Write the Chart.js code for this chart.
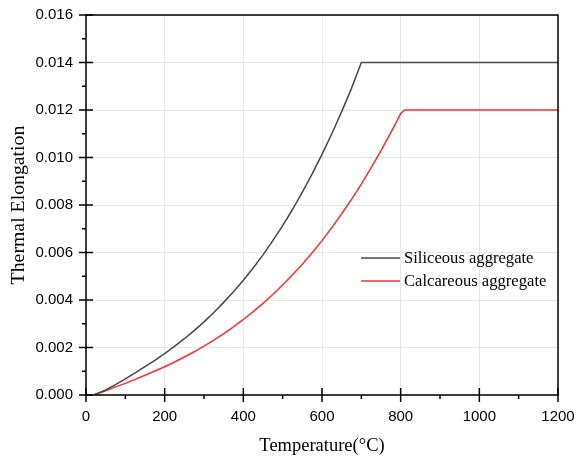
<!DOCTYPE html>
<html>
<head>
<meta charset="utf-8">
<script src="https://cdn.jsdelivr.net/npm/chart.js@4.4.1/dist/chart.umd.min.js"></script>
<style>
  html, body { margin: 0; padding: 0; background: #fff; }
  #wrap { width: 577px; height: 458px; }
</style>
</head>
<body>
<div id="wrap"><canvas id="chart" width="577" height="458"></canvas></div>
<script>
const xTicks = [0, 200, 400, 600, 800, 1000, 1200];
const yTicks = [0, 0.002, 0.004, 0.006, 0.008, 0.010, 0.012, 0.014, 0.016];

const siliceousTemp  = [20, 50, 75, 100, 125, 150, 175, 200, 225, 250, 275, 300, 325, 350, 375, 400,
                        425, 450, 475, 500, 525, 550, 575, 600, 625, 650, 675, 700, 1200];
const siliceousElong = [0, 0.00021, 0.00044, 0.00068, 0.00093, 0.00119, 0.00146, 0.00174, 0.00205,
                        0.00237, 0.00271, 0.00308, 0.00347, 0.00390, 0.00435, 0.00483, 0.00535,
                        0.00590, 0.00650, 0.00713, 0.00781, 0.00854, 0.00931, 0.01013, 0.01100,
                        0.01193, 0.01291, 0.01400, 0.01400];

const calcareousTemp  = [20, 50, 75, 100, 125, 150, 175, 200, 225, 250, 275, 300, 325, 350, 375, 400,
                         425, 450, 475, 500, 525, 550, 575, 600, 625, 650, 675, 700, 725, 750, 775,
                         790, 800, 810, 1200];
const calcareousElong = [0, 0.00018, 0.00034, 0.00049, 0.00066, 0.00083, 0.00101, 0.00119, 0.00139,
                         0.00160, 0.00182, 0.00206, 0.00231, 0.00258, 0.00287, 0.00318, 0.00351,
                         0.00386, 0.00423, 0.00463, 0.00506, 0.00551, 0.00599, 0.00650, 0.00705,
                         0.00763, 0.00824, 0.00888, 0.00957, 0.01029, 0.01105, 0.01152, 0.01185,
                         0.01200, 0.01200];

const SERIF = "'Liberation Serif', 'Times New Roman', serif";
const SANS  = "'Liberation Sans', Arial, sans-serif";

const pts = (xs, ys) => xs.map((x, i) => ({ x, y: ys[i] }));

// ── frame, crossing major ticks, outward minor ticks, inset legend ──
const origin = {
  id: "originFrame",
  afterDraw(chart) {
    const { ctx, chartArea: a } = chart;
    const sx = chart.scales.x, sy = chart.scales.y;
    ctx.save();
    ctx.strokeStyle = "#000";
    ctx.lineWidth = 1.5;
    ctx.strokeRect(a.left, a.top, a.right - a.left, a.bottom - a.top);

    ctx.beginPath();
    for (const v of xTicks) {
      const x = sx.getPixelForValue(v);
      ctx.moveTo(x, a.bottom - 7); ctx.lineTo(x, a.bottom + 7);
    }
    for (let v = 100; v < 1200; v += 200) {
      const x = sx.getPixelForValue(v);
      ctx.moveTo(x, a.bottom); ctx.lineTo(x, a.bottom + 4);
    }
    for (const v of yTicks) {
      const y = sy.getPixelForValue(v);
      ctx.moveTo(a.left - 7, y); ctx.lineTo(a.left + 7, y);
    }
    for (let v = 0.001; v < 0.016; v += 0.002) {
      const y = sy.getPixelForValue(v);
      ctx.moveTo(a.left - 4, y); ctx.lineTo(a.left, y);
    }
    ctx.stroke();

    // legend
    ctx.font = "16.6px " + SERIF;
    ctx.textBaseline = "middle";
    ctx.textAlign = "left";
    chart.data.datasets.forEach((ds, i) => {
      const y = 258 + i * 23;
      ctx.strokeStyle = ds.borderColor;
      ctx.lineWidth = 1.5;
      ctx.beginPath();
      ctx.moveTo(361, y); ctx.lineTo(400, y);
      ctx.stroke();
      ctx.fillStyle = "#000";
      ctx.fillText(ds.label, 404, y + 1);
    });
    ctx.restore();
  }
};

new Chart(document.getElementById("chart"), {
  type: "line",
  data: {
    datasets: [
      { label: "Siliceous aggregate",  data: pts(siliceousTemp, siliceousElong),   borderColor: "#474747" },
      { label: "Calcareous aggregate", data: pts(calcareousTemp, calcareousElong), borderColor: "#ff2e2e" }
    ]
  },
  options: {
    responsive: false,
    animation: false,
    layout: { padding: { top: 15, right: 19, left: 0, bottom: 0 } },
    elements: { point: { radius: 0 }, line: { borderWidth: 1.5, tension: 0 } },
    plugins: { legend: { display: false }, tooltip: { enabled: false } },
    scales: {
      x: {
        type: "linear", min: 0, max: 1200,
        afterBuildTicks: s => { s.ticks = xTicks.map(v => ({ value: v })); },
        afterFit: s => { s.height = 63; s.paddingLeft = 0; s.paddingRight = 0; },
        grid: { color: "#e6e6e6", drawTicks: false },
        border: { display: false },
        ticks: { color: "#000", font: { family: SANS, size: 15 }, padding: 13, maxRotation: 0,
                 callback: v => String(v) },
        title: { display: true, text: "Temperature(°C)", color: "#000",
                 font: { family: SERIF, size: 18.5 }, padding: { top: 0, bottom: 1 } }
      },
      y: {
        type: "linear", min: 0, max: 0.016,
        afterBuildTicks: s => { s.ticks = yTicks.map(v => ({ value: v })); },
        afterFit: s => { s.width = 86; s.paddingTop = 0; s.paddingBottom = 0; },
        grid: { color: "#e6e6e6", drawTicks: false },
        border: { display: false },
        ticks: { color: "#000", font: { family: SANS, size: 15 }, padding: 13,
                 callback: v => v.toFixed(3) },
        title: { display: true, text: "Thermal Elongation", color: "#000",
                 font: { family: SERIF, size: 19.8 }, padding: { top: 7, bottom: 0 } }
      }
    }
  },
  plugins: [origin]
});
</script>
</body>
</html>
